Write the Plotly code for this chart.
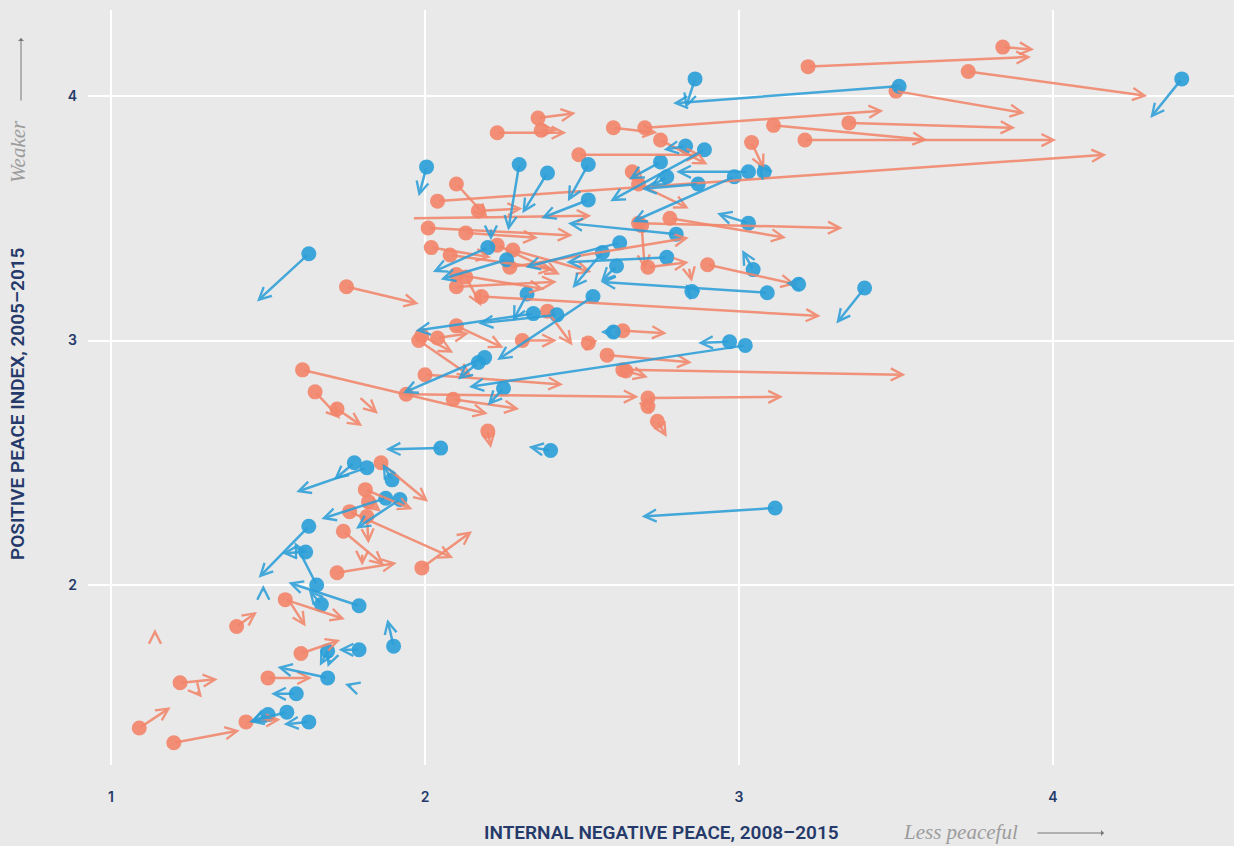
import plotly.graph_objects as go

# ---- Data (start -> end) ----
# Orange series
orange_x0 = [3.84,3.22,3.73,3.50,2.36,2.23,2.37,2.60,2.70,3.11,3.35,3.21,2.75,2.49,3.04,2.10,2.04,1.96,2.01,2.13,
             2.17,2.02,2.08,2.23,2.28,2.10,2.13,2.10,2.18,2.27,2.68,2.69,2.78,2.71,2.90,2.68,2.66,1.75,1.61,1.65,
             1.72,1.79,1.94,2.00,2.09,1.98,2.04,1.99,2.10,2.39,2.31,2.52,2.63,2.58,2.64,2.63,2.71,2.71,2.74,2.20,
             1.86,1.81,1.82,1.815,1.74,1.72,1.99,1.76,1.80,1.555,1.57,1.40,1.14,1.605,1.50,1.22,1.27,1.43,1.09,1.20,2.84]
orange_y0 = [4.20,4.12,4.10,4.02,3.91,3.85,3.86,3.87,3.87,3.88,3.89,3.82,3.82,3.76,3.81,3.64,3.57,3.50,3.46,3.44,
             3.53,3.38,3.35,3.39,3.37,3.27,3.26,3.22,3.18,3.30,3.48,3.47,3.50,3.30,3.31,3.64,3.69,3.22,2.88,2.79,
             2.72,2.77,2.78,2.86,2.76,3.00,3.01,3.02,3.06,3.12,3.00,2.99,3.04,2.94,2.875,2.88,2.765,2.73,2.67,2.63,
             2.50,2.39,2.34,2.28,2.22,2.05,2.07,2.30,2.13,1.94,1.93,1.83,1.79,1.72,1.62,1.60,1.57,1.44,1.415,1.355,3.30]
orange_x1 = [3.94,3.93,4.30,3.91,2.48,2.45,2.42,2.74,3.46,3.60,3.88,4.01,2.90,2.88,3.08,2.20,4.17,2.53,2.47,2.36,
             2.31,2.21,2.41,2.43,2.53,2.38,2.18,2.42,3.26,2.84,3.33,2.70,3.15,2.84,3.18,2.84,2.70,1.98,2.20,1.73,
             1.80,1.85,2.68,2.44,2.30,2.15,2.14,2.09,2.25,2.47,2.42,2.55,2.77,2.85,2.71,3.53,3.14,2.72,2.77,2.21,
             2.01,1.96,1.86,1.82,1.87,1.91,2.15,2.09,1.80,1.745,1.62,1.465,1.14,1.73,1.64,1.34,1.29,1.54,1.19,1.41,2.85]
orange_y1 = [4.19,4.16,4.00,3.93,3.93,3.85,3.86,3.85,3.94,3.82,3.87,3.82,3.72,3.76,3.70,3.50,3.76,3.51,3.43,3.42,
             3.54,3.34,3.29,3.27,3.28,3.21,3.14,3.24,3.10,3.42,3.46,3.29,3.42,3.32,3.23,3.54,3.64,3.15,2.70,2.68,
             2.65,2.70,2.77,2.82,2.72,2.85,3.03,2.95,2.97,2.98,3.00,3.00,3.03,2.91,2.85,2.86,2.77,2.70,2.605,2.56,
             2.34,2.31,2.30,2.17,2.08,2.09,2.22,2.11,2.08,1.86,1.83,1.89,1.82,1.775,1.62,1.615,1.54,1.45,1.50,1.405,3.24]
orange_dot = [1,1,1,1,1,1,1,1,1,1,1,1,1,1,1,1,1,0,1,1,
              1,1,1,1,1,1,1,1,1,1,1,1,1,1,1,1,1,1,1,1,
              1,0,1,1,1,1,1,1,1,1,1,1,1,1,1,1,1,1,1,1,
              1,1,1,1,1,1,1,1,0,1,0,1,0,1,1,1,0,1,1,1,0]

# Blue series
blue_x0 = [4.41,3.51,2.86,2.89,2.83,2.75,2.77,2.87,2.985,3.03,3.08,2.005,2.30,2.39,2.52,2.52,2.21,2.20,2.26,2.62,
           2.565,2.61,2.77,2.80,3.03,3.045,3.19,3.09,2.85,3.40,2.325,2.535,2.345,2.42,2.60,2.97,3.02,2.19,2.17,2.25,
           2.05,2.40,3.115,1.775,1.815,1.895,1.875,1.92,1.63,1.62,1.655,1.79,1.67,1.485,1.69,1.70,1.79,1.69,1.77,1.59,
           1.56,1.50,1.63,1.90,1.63]
blue_y0 = [4.07,4.04,4.07,3.78,3.795,3.73,3.67,3.64,3.67,3.69,3.69,3.71,3.72,3.685,3.72,3.575,3.46,3.38,3.33,3.40,
           3.36,3.305,3.34,3.435,3.48,3.29,3.23,3.195,3.20,3.215,3.19,3.18,3.11,3.105,3.035,2.995,2.98,2.93,2.91,2.805,
           2.56,2.55,2.315,2.50,2.48,2.43,2.355,2.35,2.24,2.135,2.00,1.915,1.92,1.97,1.73,1.70,1.735,1.62,1.585,1.555,
           1.48,1.47,1.44,1.75,3.355]
blue_x1 = [4.31,2.79,2.83,2.59,2.76,2.65,2.72,2.69,2.66,2.80,3.06,1.98,2.265,2.31,2.455,2.37,2.21,2.025,2.05,2.32,
           2.47,2.56,2.45,2.455,2.93,3.01,3.15,2.56,2.83,3.31,2.28,2.23,1.97,2.17,2.56,2.87,2.14,1.93,2.105,2.20,
           1.875,2.33,2.69,1.71,1.59,1.865,1.67,1.78,1.47,1.545,1.585,1.565,1.63,1.485,1.665,1.69,1.725,1.53,1.745,1.51,
           1.44,1.445,1.55,1.88,1.465]
blue_y1 = [3.91,3.97,3.95,3.57,3.78,3.66,3.63,3.62,3.485,3.69,3.72,3.59,3.45,3.52,3.57,3.50,3.41,3.28,3.25,3.30,
           3.215,3.24,3.32,3.48,3.52,3.37,3.235,3.24,3.23,3.07,3.08,2.92,3.04,3.07,3.035,2.99,2.81,2.785,2.84,2.735,
           2.555,2.565,2.28,2.43,2.38,2.495,2.27,2.23,2.03,2.13,2.175,2.01,1.98,2.00,1.67,1.665,1.735,1.665,1.595,1.555,
           1.44,1.44,1.43,1.86,3.16]
blue_dot = [1,1,1,1,1,1,1,1,1,1,1,1,1,1,1,1,0,1,1,1,
            1,1,1,1,1,1,1,1,1,1,1,1,1,1,1,1,1,1,1,1,
            1,1,1,1,1,1,1,1,1,1,1,1,1,0,1,0,1,1,0,1,
            1,1,1,1,1]

x_ticks = [1, 2, 3, 4]
y_ticks = [2, 3, 4]

ORANGE = "#f2866b"
BLUE = "#2d9fd8"
NAVY = "#253a6a"
BG = "#e9e9e9"

fig = go.Figure()

annotations = []
def add_series(x0, y0, x1, y1, dots, color):
    for a, b, c, d in zip(x0, y0, x1, y1):
        annotations.append(dict(
            x=c, y=d, ax=a, ay=b, xref="x", yref="y", axref="x", ayref="y",
            text="", showarrow=True, arrowhead=5, arrowsize=0.95, arrowwidth=2.5,
            arrowcolor=color, opacity=0.88, standoff=0, startstandoff=0))
    dx = [a for a, k in zip(x0, dots) if k]
    dy = [b for b, k in zip(y0, dots) if k]
    fig.add_trace(go.Scatter(x=dx, y=dy, mode="markers", hoverinfo="skip",
                             marker=dict(size=15, color=color, opacity=0.92,
                                         line=dict(width=0)),
                             showlegend=False))

add_series(orange_x0, orange_y0, orange_x1, orange_y1, orange_dot, ORANGE)
add_series(blue_x0, blue_y0, blue_x1, blue_y1, blue_dot, BLUE)

L, R, T, B = 88, 0, 10, 81
W, H = 1234, 846
pw, ph = W - L - R, H - T - B
def px(xp):
    return (xp - L) / pw
def py(yp):
    return (H - B - yp) / ph

# axis titles and direction hints
annotations += [
    dict(text="INTERNAL NEGATIVE PEACE, 2008–2015", xref="paper", yref="paper",
         x=px(661), y=py(832), showarrow=False, xanchor="center", yanchor="middle",
         font=dict(family="Roboto", size=19, color=NAVY, weight=600)),
    dict(text="<i>Less peaceful</i>", xref="paper", yref="paper",
         x=px(960), y=py(832), showarrow=False, xanchor="center", yanchor="middle",
         font=dict(family="Liberation Serif", size=21, color="#9c9c9c")),
    dict(text="", xref="paper", yref="paper", x=px(1104), y=py(833),
         ax=-68, ay=0, showarrow=True, arrowhead=1, arrowsize=1, arrowwidth=1,
         arrowcolor="#777777"),
    dict(text="POSITIVE PEACE INDEX, 2005–2015", xref="paper", yref="paper",
         x=px(18), y=py(404), showarrow=False, textangle=-90,
         xanchor="center", yanchor="middle",
         font=dict(family="Roboto", size=19, color=NAVY, weight=600)),
    dict(text="<i>Weaker</i>", xref="paper", yref="paper",
         x=px(18), y=py(152), showarrow=False, textangle=-90,
         xanchor="center", yanchor="middle",
         font=dict(family="Liberation Serif", size=21, color="#9c9c9c")),
    dict(text="", xref="paper", yref="paper", x=px(21), y=py(38),
         ax=0, ay=64, showarrow=True, arrowhead=1, arrowsize=1, arrowwidth=1,
         arrowcolor="#777777"),
]

x_min = 1 + (L - 111) / 314
x_max = 1 + (W - R - 111) / 314
y_max = 4 + (96 - T) / 244.5
y_min = 4 - (H - B - 96) / 244.5

fig.update_layout(
    width=W, height=H,
    margin=dict(l=L, r=R, t=T, b=B, pad=0),
    paper_bgcolor=BG, plot_bgcolor=BG,
    showlegend=False,
    annotations=annotations,
    xaxis=dict(range=[x_min, x_max], tickvals=x_ticks, ticktext=[str(v) for v in x_ticks],
               showgrid=True, gridcolor="white", gridwidth=2, zeroline=False,
               showline=False, ticks="", ticklabelstandoff=22,
               tickfont=dict(family="Inter", size=14, color=NAVY, weight=600)),
    yaxis=dict(range=[y_min, y_max], tickvals=y_ticks, ticktext=[str(v) for v in y_ticks],
               showgrid=True, gridcolor="white", gridwidth=2, zeroline=False,
               showline=False, ticks="", ticklabelstandoff=10,
               tickfont=dict(family="Inter", size=14, color=NAVY, weight=600)),
)

fig.write_html("out.html", config={"displayModeBar": False})

# remove the default page margin so the figure fills the window exactly
with open("out.html", "r", encoding="utf-8") as f:
    html = f.read()
html = html.replace("<head>", "<head><style>html,body{margin:0;padding:0;overflow:hidden;background:#e9e9e9;}</style>", 1)
with open("out.html", "w", encoding="utf-8") as f:
    f.write(html)
